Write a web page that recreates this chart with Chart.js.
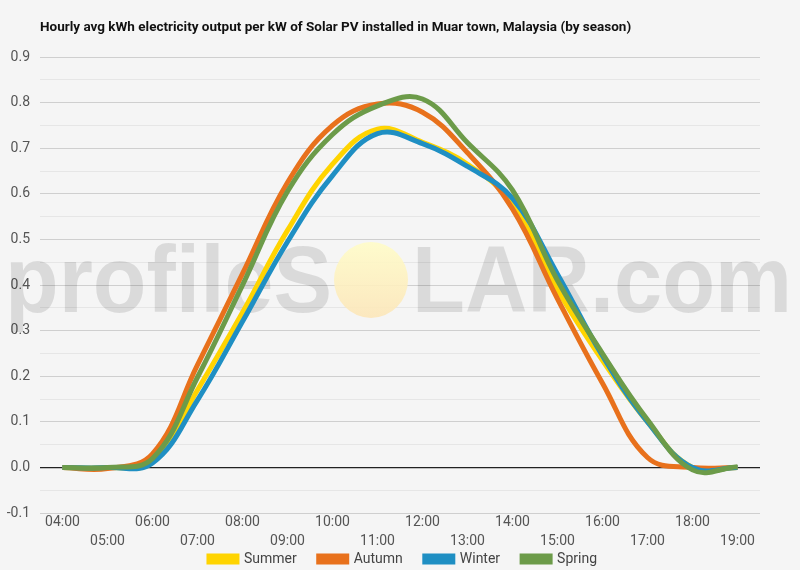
<!DOCTYPE html>
<html>
<head>
<meta charset="utf-8">
<script src="https://cdn.jsdelivr.net/npm/chart.js@4/dist/chart.umd.min.js"></script>
<style>
  html, body { margin: 0; padding: 0; background: #f5f5f5; }
  #wrap { width: 800px; height: 570px; position: relative; }
</style>
</head>
<body>
<div id="wrap"><canvas id="chart"></canvas></div>
<script>
// heures (axe X)
const hours = ['04:00','05:00','06:00','07:00','08:00','09:00','10:00','11:00','12:00','13:00','14:00','15:00','16:00','17:00','18:00','19:00'];

// valeurs (kWh par kW installé)
const summer = [0.0, 0.0, 0.012, 0.17, 0.34, 0.52, 0.665, 0.742, 0.713, 0.665, 0.578, 0.39, 0.235, 0.10, 0.0, 0.0];
const autumn = [0.0, -0.002, 0.03, 0.225, 0.425, 0.625, 0.75, 0.797, 0.779, 0.69, 0.567, 0.37, 0.185, 0.022, 0.0, 0.0];
const winter = [0.0, 0.0, 0.01, 0.148, 0.32, 0.495, 0.64, 0.732, 0.71, 0.66, 0.59, 0.424, 0.245, 0.10, 0.0, 0.0];
const spring = [0.0, 0.0, 0.02, 0.198, 0.40, 0.605, 0.73, 0.793, 0.808, 0.712, 0.608, 0.41, 0.25, 0.105, -0.005, 0.002];

const seriesNames = ['Summer', 'Autumn', 'Winter', 'Spring'];
const seriesColors = ['#ffd400', '#e8711c', '#1f8fc3', '#6c9b49'];

const titleText = 'Hourly avg kWh electricity output per kW of Solar PV installed in Muar town, Malaysia (by season)';

// fond + titre
const bgPlugin = {
    id: 'bg',
    beforeDraw(chart) {
        const c = chart.ctx;
        c.save();
        c.fillStyle = '#f5f5f5';
        c.fillRect(0, 0, chart.width, chart.height);
        c.fillStyle = '#111';
        c.font = 'bold 13.5px Roboto';
        c.textBaseline = 'middle';
        c.fillText(titleText, 40, 28);
        c.restore();
    },
    // on remonte la légende juste sous les heures
    afterLayout(chart) {
        const l = chart.legend;
        if (!l) return;
        const h = l.bottom - l.top;
        l.top = 530;
        l.bottom = 530 + h;
    }
};

// filigrane profileSOLAR.com
const watermark = {
    id: 'watermark',
    beforeDatasetsDraw(chart) {
        const c = chart.ctx;
        c.save();
        c.font = 'bold 95px "Liberation Sans"';
        c.textBaseline = 'alphabetic';
        c.fillStyle = 'rgba(0,0,0,0.11)';
        const base = 312;
        let w1 = c.measureText('profileS').width;
        c.save();
        c.translate(5, base);
        c.scale(327 / w1, 1);
        c.fillText('profileS', 0, 0);
        c.restore();
        let w2 = c.measureText('LAR.com').width;
        c.save();
        c.translate(412, base);
        c.scale(380 / w2, 1);
        c.fillText('LAR.com', 0, 0);
        c.restore();
        // le soleil
        const g = c.createLinearGradient(0, 242, 0, 318);
        g.addColorStop(0, 'rgba(255,252,200,0.9)');
        g.addColorStop(1, 'rgba(252,230,185,0.9)');
        c.fillStyle = g;
        c.beginPath();
        c.ellipse(371, 280, 37, 38, 0, 0, Math.PI * 2);
        c.fill();
        c.restore();
    }
};

const allData = [summer, autumn, winter, spring];
const datasets = seriesNames.map((name, i) => ({
    label: name,
    data: allData[i],
    borderColor: seriesColors[i],
    backgroundColor: seriesColors[i],
    borderWidth: 5,
    pointRadius: 0,
    tension: 0.4,
    fill: false,
    order: 4 - i,
    yAxisID: 'y'
}));

const ctx = document.getElementById('chart').getContext('2d');
new Chart(ctx, {
    type: 'line',
    data: { labels: hours, datasets },
    plugins: [bgPlugin, watermark],
    options: {
        responsive: true,
        maintainAspectRatio: false,
        animation: false,
        layout: { padding: { top: 57, left: 4, right: -2, bottom: -27 } },
        scales: {
            x: {
                offset: true,
                grid: { display: false, drawTicks: false },
                border: { display: false },
                ticks: {
                    color: '#555',
                    font: { family: 'Roboto', size: 14, lineHeight: 1.35 },
                    maxRotation: 0,
                    autoSkip: false,
                    padding: 0,
                    callback: (v, i) => i % 2 === 0 ? hours[i] : ['', hours[i]]
                }
            },
            y: {
                min: -0.1,
                max: 0.9,
                border: { display: false },
                afterFit: s => { s.width = 36; },
                grid: {
                    drawTicks: false,
                    color: c => {
                        const v = Math.round(c.tick.value * 100);
                        if (v === 0) return '#222';
                        return v % 10 === 0 ? '#cfcfcf' : '#e6e6e6';
                    },
                    lineWidth: c => Math.round(c.tick.value * 100) === 0 ? 1.2 : 1
                },
                ticks: {
                    stepSize: 0.05,
                    autoSkip: false,
                    color: '#555',
                    padding: 10,
                    font: { family: 'Roboto', size: 14 },
                    callback: v => Math.round(v * 100) % 10 === 0 ? v.toFixed(1) : ''
                }
            },
            // axe vide à droite pour centrer la légende
            y2: {
                position: 'right',
                min: -0.1,
                max: 0.9,
                grid: { display: false },
                border: { display: false },
                ticks: { display: false },
                afterFit: s => { s.width = 42; }
            }
        },
        plugins: {
            legend: {
                position: 'bottom',
                labels: {
                    boxWidth: 28,
                    boxHeight: 6,
                    padding: 22,
                    color: '#444',
                    font: { family: 'Roboto', size: 14 },
                    sort: (a, b) => a.datasetIndex - b.datasetIndex
                }
            },
            tooltip: { enabled: false }
        }
    }
});
</script>
</body>
</html>
